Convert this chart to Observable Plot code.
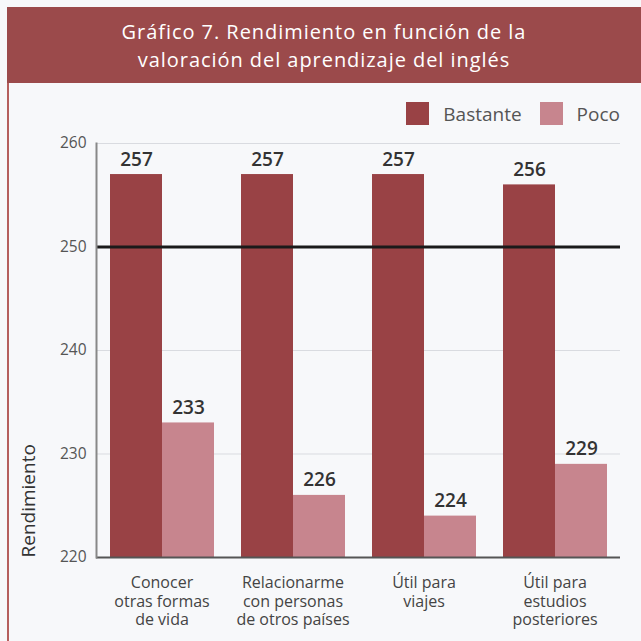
<!DOCTYPE html>
<html>
<head>
<meta charset="utf-8">
<script src="https://cdn.jsdelivr.net/npm/d3@7"></script>
<script src="https://cdn.jsdelivr.net/npm/@observablehq/plot@0.6"></script>
<style>
  body { margin: 0; background: #f7f8fa; font-family: "Open Sans", sans-serif; }
  #wrap { position: relative; width: 641px; height: 641px; overflow: hidden; }
  #header { position: absolute; left: 7px; top: 7px; width: 634px; height: 76px; background: #9b4a4b;
    color: #fff; text-align: center; font-size: 20px; font-weight: 500; letter-spacing: 0.95px; line-height: 28px; padding-top: 11px; box-sizing: border-box; }
  #border { position: absolute; left: 7px; top: 83px; width: 2px; height: 558px; background: #b55f5d; }
  #legend { position: absolute; right: 21px; top: 97px; }
  #chart { position: absolute; left: 0; top: 130px; }
  .lg-swatch { margin-right: 18px !important; color: #555; }
  .lg-swatch:last-child { margin-right: 0 !important; }
  .lg-swatch > svg { margin-right: 14px !important; }
</style>
</head>
<body>
<div id="wrap">
  <div id="header">Gráfico 7. Rendimiento en función de la<br>valoración del aprendizaje del inglés</div>
  <div id="border"></div>
  <div id="legend"></div>
  <div id="chart"></div>
</div>
<script>
const categories = ["Conocer otras formas de vida", "Relacionarme con personas de otros países", "Útil para viajes", "Útil para estudios posteriores"];
const categoryLabels = ["Conocer\notras formas\nde vida", "Relacionarme\ncon personas\nde otros países", "Útil para\nviajes", "Útil para\nestudios\nposteriores"];
const series = ["Bastante", "Poco"];
const bastante = [257, 257, 257, 256];
const poco = [233, 226, 224, 229];
const yDomain = [220, 260];
const yTicks = [220, 230, 240, 250, 260];
const gridValues = [260, 240, 230];
const referenceValue = [250];
const colors = ["#994245", "#c7858e"];
const yLabel = "Rendimiento";

const rows = [];
categories.forEach((c, i) => {
  rows.push({cat: c, series: series[0], value: bastante[i]});
  rows.push({cat: c, series: series[1], value: poco[i]});
});
const labelOf = new Map(categories.map((c, i) => [c, categoryLabels[i]]));

const chart = Plot.plot({
  width: 641,
  height: 511,
  marginLeft: 95,
  marginRight: 21,
  marginTop: 13,
  marginBottom: 84,
  style: {background: "transparent", fontFamily: "Open Sans, sans-serif", overflow: "visible"},
  fx: {domain: categories, paddingInner: 0, paddingOuter: 0, label: null},
  x: {domain: series, paddingInner: 0, paddingOuter: 0.25, axis: null},
  y: {domain: yDomain, label: null},
  color: {domain: series, range: colors},
  marks: [
    Plot.ruleY(gridValues, {stroke: "#d9dbe0", strokeWidth: 1}),
    Plot.barY(rows, {fx: "cat", x: "series", y: "value", fill: "series", clip: true}),
    Plot.ruleY(referenceValue, {stroke: "#1a1a1a", strokeWidth: 3}),
    Plot.ruleY([yDomain[0]], {stroke: "#555", strokeWidth: 2}),
    Plot.frame({anchor: "left", facetAnchor: "left", stroke: "#888", strokeWidth: 2}),
    Plot.text(rows, {fx: "cat", x: "series", y: "value", text: d => String(d.value), dy: -9, lineAnchor: "bottom",
      fontSize: 19, fontWeight: 600, fill: "#333"}),
    Plot.axisY({ticks: yTicks, tickSize: 0, tickPadding: 10, label: null, fontSize: 15.5, fill: "#555"}),
    Plot.axisFx({anchor: "bottom", tickSize: 0, tickPadding: 17, label: null, tickFormat: d => labelOf.get(d),
      fontSize: 16, lineHeight: 1.17, fill: "#444"}),
    Plot.text([yLabel], {frameAnchor: "bottom-left", rotate: -90, textAnchor: "start", dx: -62, facetAnchor: "left",
      fontSize: 19, fill: "#333"})
  ]
});
document.getElementById("chart").appendChild(chart);

const legend = Plot.legend({color: {domain: series, range: colors}, swatchSize: 23, className: "lg",
  style: {fontSize: "19px", fontFamily: "Open Sans, sans-serif", color: "#555"}});
document.getElementById("legend").appendChild(legend);
</script>
</body>
</html>
